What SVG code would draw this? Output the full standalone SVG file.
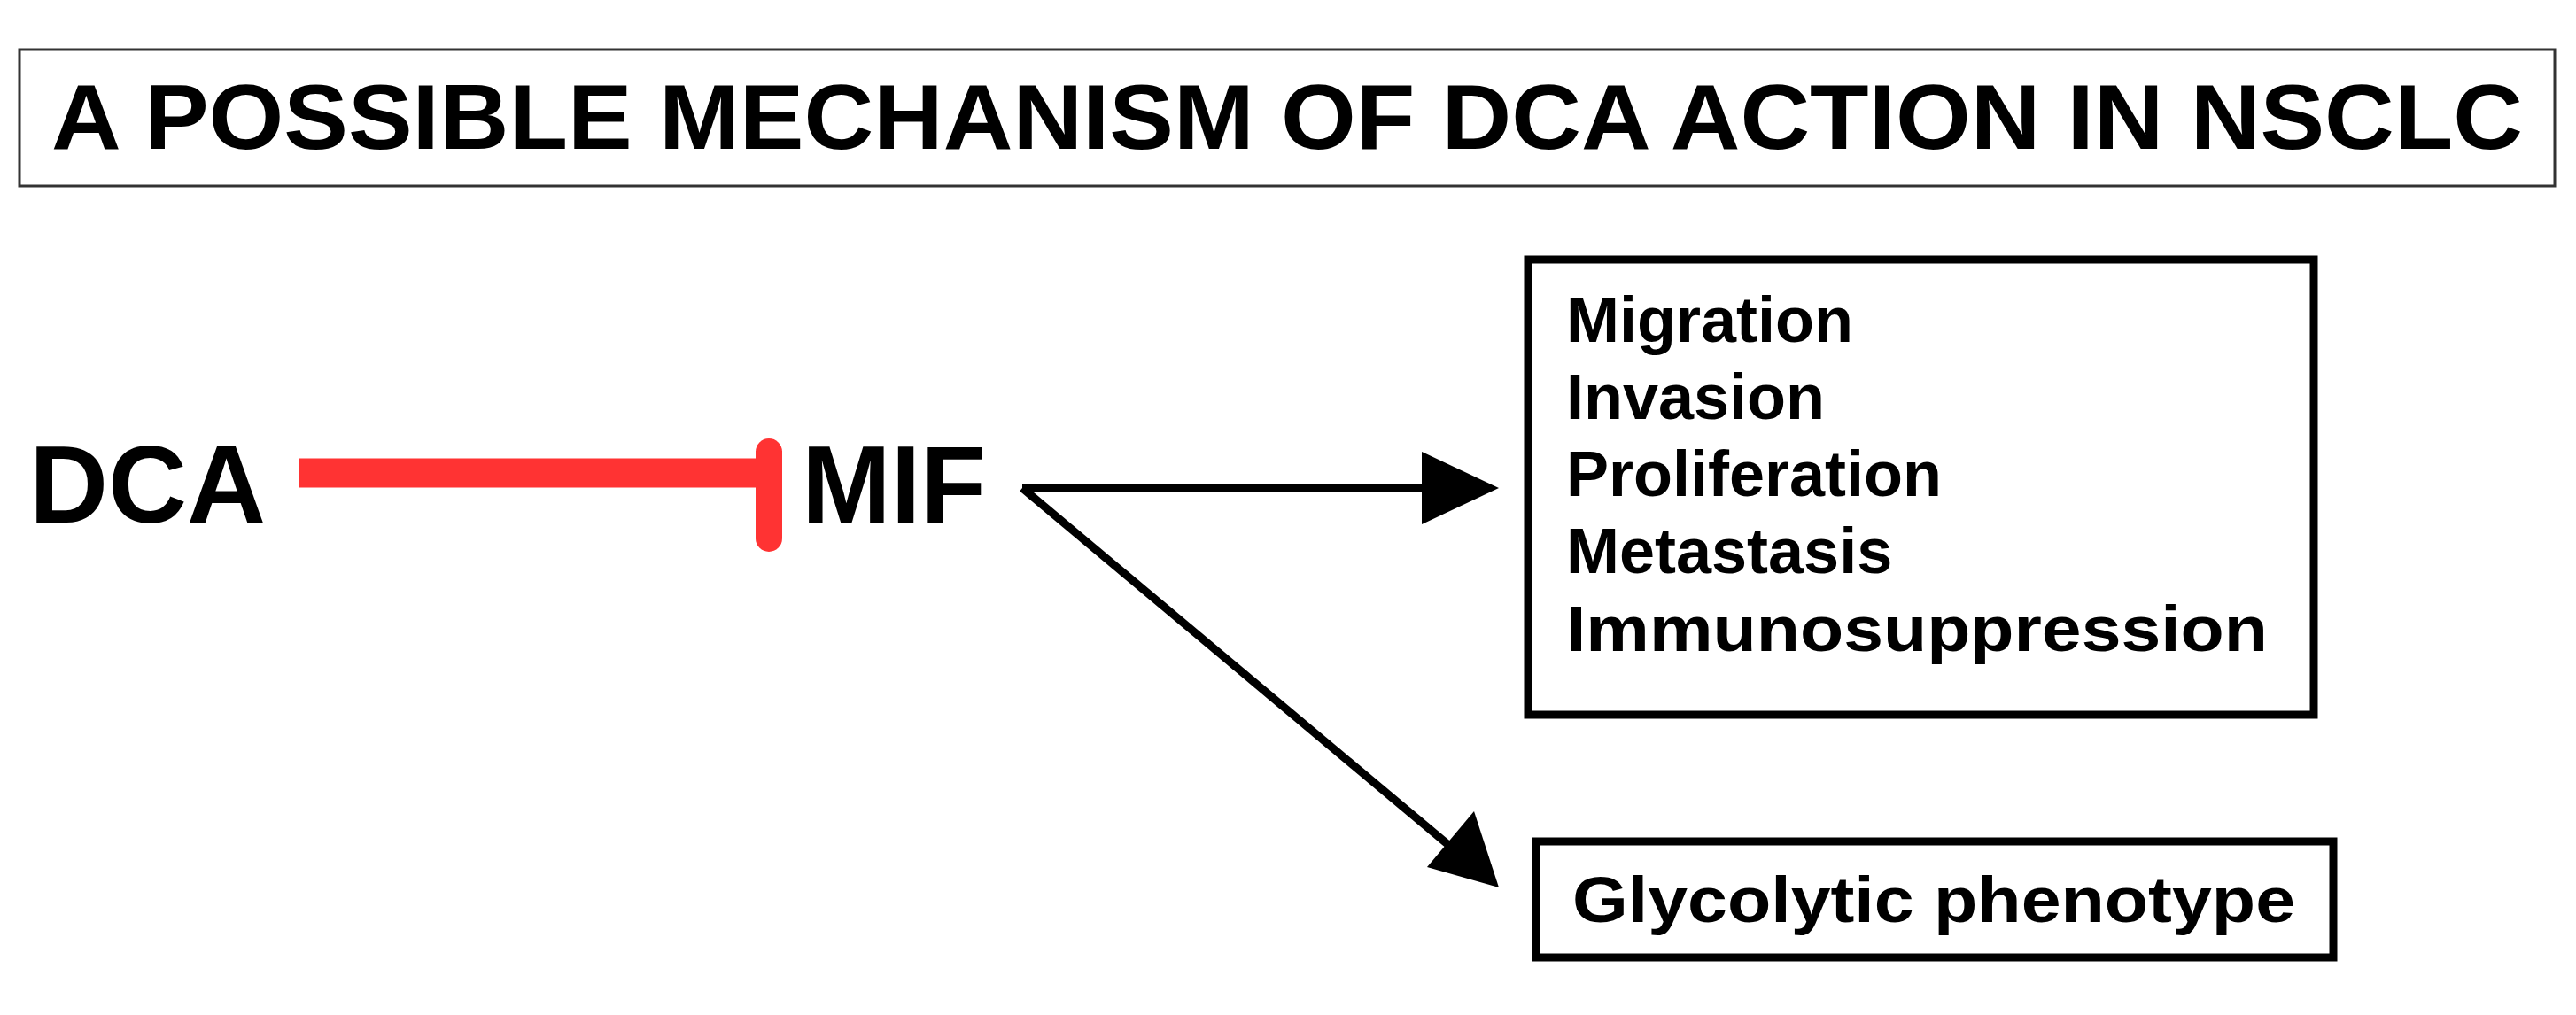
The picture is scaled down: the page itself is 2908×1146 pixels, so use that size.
<svg xmlns="http://www.w3.org/2000/svg" width="2908" height="1146" viewBox="0 0 2908 1146">
<defs>
<style>
text{font-family:"Liberation Sans",Arial,sans-serif;font-weight:bold;fill:#000}
.lbl{font-size:72px}
.box{fill:#fff;stroke:#000;stroke-width:9}
.arr{stroke:#000;stroke-width:9}
</style>
</defs>
<rect width="2908" height="1146" fill="#fff"/>
<g id="title"><rect x="22" y="56" width="2862" height="154" fill="#fff" stroke="#333" stroke-width="3"/>
<text x="58" y="168" font-size="104" textLength="2790" lengthAdjust="spacingAndGlyphs">A POSSIBLE MECHANISM OF DCA ACTION IN NSCLC</text></g>
<g id="dca"><text x="33" y="590" font-size="124" textLength="267" lengthAdjust="spacingAndGlyphs">DCA</text></g>
<g id="mif"><text x="905" y="590" font-size="124" textLength="208" lengthAdjust="spacingAndGlyphs">MIF</text></g>
<g id="effects"><rect class="box" x="1725" y="293" width="887" height="514"/>
<text class="lbl" x="1768" y="386">Migration</text>
<text class="lbl" x="1768" y="473">Invasion</text>
<text class="lbl" x="1768" y="560">Proliferation</text>
<text class="lbl" x="1768" y="647">Metastasis</text>
<text class="lbl" x="1768" y="735" textLength="792" lengthAdjust="spacingAndGlyphs">Immunosuppression</text></g>
<g id="glyco"><rect class="box" x="1734" y="950" width="900" height="131"/>
<text class="lbl" x="1775" y="1041" textLength="816" lengthAdjust="spacingAndGlyphs">Glycolytic phenotype</text></g>
<g id="connectors">
<line x1="338" y1="534" x2="860" y2="534" stroke="#f33" stroke-width="33"/>
<line x1="868" y1="510" x2="868" y2="608" stroke="#f33" stroke-width="30" stroke-linecap="round"/>
<line class="arr" x1="1154" y1="551" x2="1620" y2="551"/>
<polygon points="1692,551 1605,510 1605,592" fill="#000"/>
<line class="arr" x1="1154" y1="551" x2="1640" y2="958"/>
<polygon points="1692,1002 1611,979 1664,916" fill="#000"/>
</g>
</svg>
